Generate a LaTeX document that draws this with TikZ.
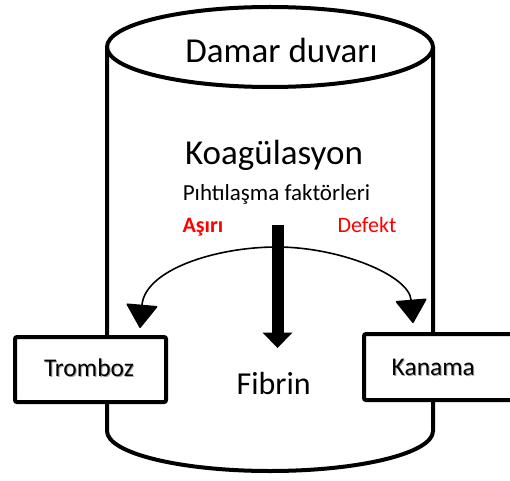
\documentclass[tikz,border=0pt]{standalone}
\usepackage{fontspec}
\setmainfont{Carlito}
\usetikzlibrary{arrows.meta}
\definecolor{warnred}{RGB}{255,0,0}
\tikzset{
  wall/.style={line width=4pt},
  outbox/.style={draw, line width=4pt, fill=white, rounded corners=2pt,
    minimum width=151pt, minimum height=65pt, inner sep=0pt},
  lbl/.style={inner sep=0pt, anchor=base},
  shadowtxt/.style={lbl, text=black!35},
  boxfont/.style={font=\fontsize{25.5}{30}\selectfont},
  branch/.style={line width=1.6pt, -{Triangle[width=32pt,length=24pt,round]}},
}
\begin{document}
\begin{tikzpicture}[x=1pt,y=1pt]
\useasboundingbox (0,0) rectangle (510,480);
\fill[white] (0,0) rectangle (510,480);
% cylinder (vessel wall)
\draw[wall] (107,433) -- (107,49) arc[start angle=180,end angle=360,x radius=163,y radius=40] -- (433,433);
\draw[wall] (270,433) ellipse [x radius=163,y radius=40];
% branching curved arrows
\coordinate (peak) at (277,233);
\coordinate (ltip) at (140,152);
\coordinate (rtip) at (413,157);
\draw[branch] (peak) .. controls (215,233) and (145,210) .. (ltip);
\draw[branch] (peak) .. controls (339,233) and (409,205) .. (rtip);
% central thick arrow
\coordinate (shafttop) at (277.5,255);
\coordinate (shaftbot) at (277.5,147);
\draw[line width=12pt] (shafttop) -- (shaftbot);
\fill (262.5,147.5) -- (292.5,147.5) -- (277.5,132) -- cycle;
% boxes
\node[outbox] (trombozbox) at (90.5,110.5) {};
\node[shadowtxt, boxfont] at (90,102.3) {Tromboz};
\node[lbl, boxfont] (tromboz) at (89,103.3) {Tromboz};
\node[outbox, minimum height=66pt] (kanamabox) at (439.5,113) {};
\node[shadowtxt, boxfont] at (434.3,104) {Kanama};
\node[lbl, boxfont] (kanama) at (433.3,105) {Kanama};
% texts
\node[lbl, font=\fontsize{35}{42}\selectfont] (wall) at (281.5,417.3) {Damar duvarı};
\node[lbl, font=\fontsize{35}{42}\selectfont] (koag) at (274,315.7) {Koagülasyon};
\node[lbl, font=\fontsize{23}{28}\selectfont] (factors) at (276.5,280) {Pıhtılaşma faktörleri};
\node[lbl, text=warnred, font=\fontsize{22}{26}\selectfont\bfseries] (asiri) at (203,248) {Aşırı};
\node[lbl, text=warnred, font=\fontsize{22}{26}\selectfont] (defekt) at (367,248) {Defekt};
\node[lbl, font=\fontsize{32}{38}\selectfont] (fibrin) at (273.7,85.7) {Fibrin};
\end{tikzpicture}
\end{document}
